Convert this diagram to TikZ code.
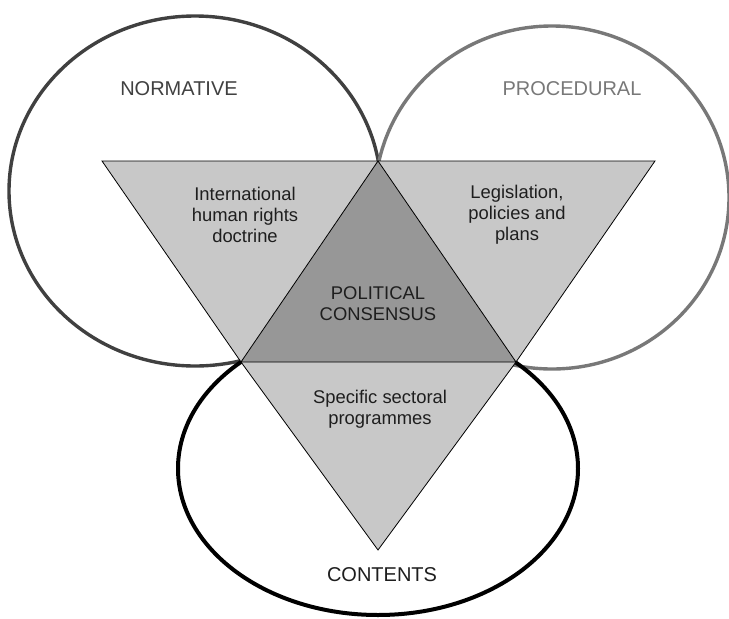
\documentclass[tikz,border=0pt]{standalone}
\usepackage{fontspec}
\setmainfont{Liberation Sans}
\begin{document}
\begin{tikzpicture}[x=1pt,y=-1pt,
  normline/.style={draw=normcol,line width=3.4pt},
  procline/.style={draw=proccol,line width=3.4pt},
  contline/.style={draw=black,line width=4pt},
  lightfill/.style={fill=trilight},
  darkfill/.style={fill=tridark},
  triedge/.style={draw=black,line width=0.8pt,line join=miter},
  biglabel/.style={font=\fontsize{20}{23}\selectfont,inner sep=0pt},
  innerlabel/.style={font=\fontsize{18.4}{21}\selectfont,align=center,text=textcol,inner sep=0pt}]
\definecolor{normcol}{HTML}{404040}
\definecolor{proccol}{HTML}{787878}
\definecolor{trilight}{HTML}{C8C8C8}
\definecolor{tridark}{HTML}{979797}
\definecolor{textcol}{HTML}{1E1E1E}
\useasboundingbox (0,0) rectangle (729,619);
% circles
\draw[normline] (195,191) ellipse [x radius=186, y radius=175];
\draw[procline] (552,197.5) ellipse [x radius=177, y radius=171.5];
\draw[contline] (378,468.6) ellipse [x radius=200, y radius=146.4];
% triangle points
\coordinate (TL) at (102,161);
\coordinate (TR) at (655,161);
\coordinate (B) at (378,550);
\coordinate (A) at (378,161);
\coordinate (M1) at (241,362);
\coordinate (M2) at (516,362);
% fills
\fill[lightfill] (TL) -- (A) -- (M1) -- cycle;
\fill[lightfill] (A) -- (TR) -- (M2) -- cycle;
\fill[lightfill] (M1) -- (M2) -- (B) -- cycle;
\fill[darkfill] (A) -- (M1) -- (M2) -- cycle;
% edges
\draw[triedge] (TL) -- (TR) -- (M2) -- (B) -- (M1) -- cycle;
\draw[triedge] (A) -- (M1) -- (M2) -- cycle;
% labels
\node[biglabel,text=normcol] (normative) at (179,89) {NORMATIVE};
\node[biglabel,text=proccol] (procedural) at (572,89) {PROCEDURAL};
\node[biglabel,text=textcol] (contents) at (382,575) {CONTENTS};
\node[innerlabel] (doctrine) at (245,215) {International\\human rights\\doctrine};
\node[innerlabel] (legislation) at (517,215) {Legislation,\\policies and\\plans};
\node[innerlabel] (consensus) at (378,304) {POLITICAL\\CONSENSUS};
\node[innerlabel] (programmes) at (380,409) {Specific sectoral\\programmes};
\end{tikzpicture}
\end{document}
